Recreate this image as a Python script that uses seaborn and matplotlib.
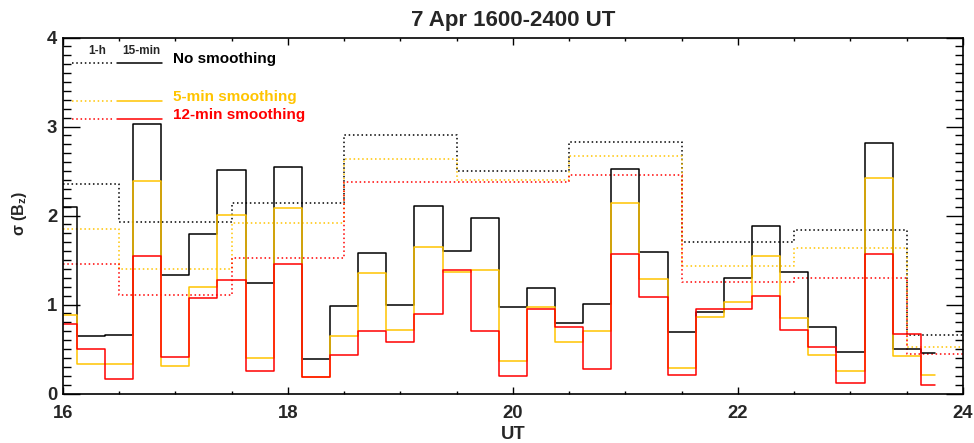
import seaborn as sns
import matplotlib
matplotlib.use('Agg')
import matplotlib.pyplot as plt
from matplotlib.ticker import MultipleLocator
import numpy as np

# 15-min values (drawn as histogram steps centred on each time)
ut15 = np.arange(16, 24, 0.25)
nosmooth15 = [2.10, 0.65, 0.66, 3.03, 1.33, 1.79, 2.51, 1.24, 2.55, 0.39, 0.98, 1.58,
              1.00, 2.11, 1.60, 1.97, 0.97, 1.18, 0.79, 1.01, 2.52, 1.59, 0.69, 0.92,
              1.30, 1.88, 1.37, 0.75, 0.47, 2.81, 0.50, 0.45]
smooth5_15 = [0.88, 0.33, 0.33, 2.39, 0.31, 1.20, 2.01, 0.40, 2.08, 0.19, 0.65, 1.35,
              0.71, 1.65, 1.36, 1.39, 0.37, 0.97, 0.58, 0.70, 2.14, 1.29, 0.29, 0.865,
              1.03, 1.55, 0.85, 0.43, 0.25, 2.42, 0.42, 0.21]
smooth12_15 = [0.78, 0.50, 0.165, 1.55, 0.41, 1.07, 1.27, 0.25, 1.45, 0.19, 0.43, 0.70,
               0.58, 0.895, 1.39, 0.70, 0.20, 0.955, 0.745, 0.28, 1.57, 1.08, 0.21, 0.95,
               0.95, 1.10, 0.715, 0.52, 0.115, 1.57, 0.67, 0.10]

# 1-h values
ut1 = [16, 17, 18, 19, 20, 21, 22, 23, 24]
nosmooth1 = [2.35, 1.93, 2.14, 2.91, 2.50, 2.83, 1.70, 1.84, 0.66]
smooth5_1 = [1.85, 1.40, 1.92, 2.63, 2.40, 2.67, 1.43, 1.64, 0.52]
smooth12_1 = [1.45, 1.11, 1.52, 2.38, 2.38, 2.45, 1.25, 1.30, 0.44]

labels = ['No smoothing', '5-min smoothing', '12-min smoothing']
colors = ['black', '#ffc400', '#ff0000']

sns.set_style('ticks')
plt.rcParams['font.family'] = ['Liberation Sans', 'DejaVu Sans']
plt.rcParams['mathtext.fontset'] = 'custom'
plt.rcParams['mathtext.bf'] = 'Liberation Sans:bold'
plt.rcParams['mathtext.rm'] = 'Liberation Sans'

dotted = (0, (1, 1.8))

fig = plt.figure(figsize=(9.74, 4.43), dpi=100)
ax = fig.add_axes([0.0644, 0.1117, 0.9243, 0.8036])

for y, c in zip([nosmooth1, smooth5_1, smooth12_1], colors):
    sns.lineplot(x=ut1, y=y, color=c, ax=ax, drawstyle='steps-mid',
                 linestyle=dotted, linewidth=1.1, estimator=None)
for y, c in zip([nosmooth15, smooth5_15, smooth12_15], colors):
    sns.lineplot(x=ut15, y=y, color=c, ax=ax, drawstyle='steps-mid',
                 linewidth=1.1, estimator=None)

ax.set_xlim(16, 24)
ax.set_ylim(0, 4)
ax.xaxis.set_major_locator(MultipleLocator(2))
ax.xaxis.set_minor_locator(MultipleLocator(0.5))
ax.yaxis.set_major_locator(MultipleLocator(1))
ax.yaxis.set_minor_locator(MultipleLocator(0.1))
ax.tick_params(axis='both', which='both', direction='in', top=True, right=True,
               width=1, color='black', labelsize=13.3)
ax.tick_params(axis='x', which='major', length=5, pad=8)
ax.tick_params(axis='x', which='minor', length=2.5)
ax.tick_params(axis='y', which='major', length=12, pad=4)
ax.tick_params(axis='y', which='minor', length=6)
for lab in ax.get_xticklabels() + ax.get_yticklabels():
    lab.set_fontweight('bold')
for s in ax.spines.values():
    s.set_linewidth(1.2)
    s.set_color('black')

ax.set_title('7 Apr 1600-2400 UT', fontsize=16, fontweight='bold', pad=8)
ax.set_xlabel('UT', fontsize=13.3, fontweight='bold')
ax.xaxis.set_label_coords(0.5, -0.09)
ax.set_ylabel(r'σ (B$_{\mathbf{z}}$)', fontsize=11.5, fontweight='bold')
ax.yaxis.set_label_coords(-0.037, 0.505)

# legend built by hand: dotted 1-h sample, solid 15-min sample, coloured label
ax.text(0.0378, 0.963, '1-h', transform=ax.transAxes, ha='center', va='center',
        fontsize=8.5, fontweight='bold')
ax.text(0.0877, 0.963, '15-min', transform=ax.transAxes, ha='center', va='center',
        fontsize=8.5, fontweight='bold')
for lab, c, ly, ty in zip(labels, colors, [0.928, 0.822, 0.770], [0.939, 0.834, 0.782]):
    ax.plot([0.010, 0.0562], [ly, ly], transform=ax.transAxes, color=c,
            linestyle=dotted, linewidth=1.1)
    ax.plot([0.060, 0.110], [ly, ly], transform=ax.transAxes, color=c, linewidth=1.1)
    ax.text(0.1228, ty, lab, transform=ax.transAxes, ha='left', va='center',
            fontsize=11, fontweight='bold', color=c)

plt.savefig('out.png', dpi=100)
